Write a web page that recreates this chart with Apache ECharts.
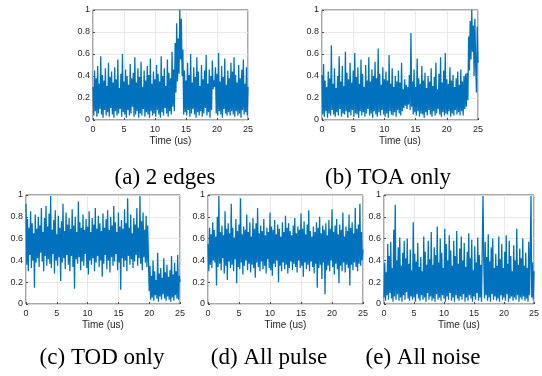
<!DOCTYPE html>
<html>
<head>
<meta charset="utf-8">
<script src="https://cdn.jsdelivr.net/npm/echarts@6/dist/echarts.min.js"></script>
<style>html,body{margin:0;padding:0;background:#fff}#c{width:542px;height:376px}</style>
</head>
<body>
<div id="c"></div>
<script>
const dt = 0.125; // sample step (us)
const xTicks = [0, 5, 10, 15, 20, 25];
const yTicks = [0, 0.2, 0.4, 0.6, 0.8, 1];
const captions = ['(a) 2 edges', '(b) TOA only', '(c) TOD only', '(d) All pulse', '(e) All noise'];

const twoEdges = [
0.30,0.04,0.45,0.08,0.38,0.03,0.49,0.06,0.33,0.10,0.58,0.05,0.41,0.02,0.36,0.09,0.47,0.04,0.31,0.07,
0.52,0.03,0.39,0.11,0.44,0.05,0.34,0.02,0.48,0.08,0.37,0.04,0.55,0.06,0.29,0.10,0.42,0.03,0.60,0.07,
0.35,0.05,0.46,0.02,0.40,0.09,0.32,0.04,0.51,0.06,0.38,0.12,0.43,0.03,0.57,0.05,0.34,0.08,0.47,0.02,
0.39,0.06,0.53,0.04,0.30,0.10,0.45,0.03,0.36,0.07,0.49,0.05,0.41,0.02,0.56,0.08,0.33,0.04,0.44,0.06,
0.37,0.03,0.50,0.09,0.42,0.05,0.35,0.02,0.58,0.07,0.40,0.04,0.47,0.11,0.31,0.06,0.55,0.03,0.43,0.08,
0.38,0.05,0.62,0.12,0.46,0.08,0.70,0.25,0.88,0.35,0.74,0.42,1.00,0.55,0.92,0.40,0.64,0.05,0.45,0.07,
0.36,0.04,0.52,0.09,0.41,0.03,0.60,0.06,0.34,0.10,0.48,0.05,0.39,0.02,0.57,0.07,0.44,0.04,0.31,0.08,
0.50,0.03,0.37,0.06,0.45,0.11,0.59,0.04,0.33,0.07,0.46,0.02,0.40,0.09,0.54,0.28,0.36,0.30,0.48,0.06,
0.42,0.04,0.61,0.08,0.35,0.05,0.49,0.02,0.39,0.10,0.56,0.06,0.32,0.04,0.45,0.07,0.38,0.04,0.52,0.08,
0.44,0.05,0.57,0.03,0.41,0.08,0.34,0.04,0.50,0.06,0.38,0.02,0.46,0.09,0.55,0.05,0.33,0.07,0.48,0.04,0.30];

const toaOnly = [
0.41,0.05,0.51,0.03,0.36,0.08,0.30,0.02,0.44,0.06,0.38,0.04,0.68,0.09,0.33,0.05,0.47,0.03,0.29,0.07,
0.40,0.04,0.58,0.10,0.35,0.03,0.49,0.06,0.31,0.05,0.62,0.08,0.43,0.02,0.37,0.07,0.52,0.04,0.34,0.09,
0.45,0.03,0.61,0.06,0.39,0.05,0.48,0.02,0.33,0.08,0.55,0.04,0.42,0.07,0.30,0.03,0.50,0.06,0.36,0.10,
0.57,0.04,0.35,0.06,0.46,0.02,0.40,0.08,0.53,0.05,0.38,0.03,0.65,0.07,0.42,0.04,0.32,0.09,0.48,0.05,
0.37,0.03,0.44,0.06,0.36,0.02,0.59,0.08,0.33,0.05,0.47,0.04,0.30,0.07,0.40,0.03,0.35,0.09,0.45,0.06,
0.34,0.04,0.52,0.08,0.28,0.11,0.37,0.13,0.32,0.10,0.30,0.14,0.41,0.09,0.79,0.12,0.35,0.05,0.46,0.07,
0.30,0.04,0.56,0.08,0.38,0.03,0.33,0.06,0.49,0.05,0.36,0.02,0.43,0.07,0.29,0.04,0.40,0.09,0.35,0.05,
0.47,0.03,0.31,0.08,0.39,0.04,0.52,0.06,0.28,0.10,0.42,0.05,0.57,0.03,0.34,0.07,0.45,0.04,0.61,0.06,
0.37,0.05,0.33,0.08,0.48,0.03,0.36,0.06,0.41,0.04,0.30,0.09,0.38,0.05,0.44,0.07,0.32,0.04,0.46,0.08,
0.35,0.04,0.40,0.10,0.42,0.12,0.43,0.18,0.76,0.45,0.90,0.55,1.00,0.62,0.86,0.40,0.92,0.50,0.25,0.85,0.52];

const todOnly = [
0.92,0.36,0.78,0.30,0.70,0.45,0.85,0.33,0.74,0.40,0.65,0.15,0.82,0.38,0.69,0.42,0.80,0.34,0.72,0.47,
0.88,0.39,0.66,0.30,0.79,0.44,0.90,0.35,0.71,0.41,0.83,0.37,0.99,0.33,0.68,0.46,0.77,0.28,0.86,0.40,
0.64,0.35,0.81,0.43,0.70,0.21,0.76,0.38,0.92,0.42,0.67,0.32,0.84,0.45,0.73,0.36,0.79,0.30,0.69,0.44,
0.87,0.34,0.72,0.14,0.80,0.41,0.66,0.37,0.94,0.43,0.75,0.31,0.70,0.39,0.82,0.35,0.68,0.46,0.78,0.33,
0.71,0.27,0.85,0.40,0.66,0.36,0.79,0.42,0.73,0.30,0.88,0.38,0.69,0.44,0.81,0.34,0.74,0.40,0.67,0.25,
0.83,0.37,0.70,0.45,0.78,0.32,0.86,0.40,0.68,0.29,0.80,0.43,0.72,0.35,0.90,0.39,0.75,0.46,0.66,0.31,
0.84,0.38,0.71,0.13,0.77,0.42,0.69,0.34,0.87,0.40,0.74,0.30,0.97,0.44,0.70,0.36,0.82,0.41,0.65,0.33,
0.79,0.39,0.73,0.45,0.88,0.35,0.70,0.42,0.99,0.37,0.76,0.31,0.84,0.43,0.68,0.38,0.81,0.34,0.72,0.41,
0.12,0.35,0.04,0.26,0.06,0.40,0.03,0.30,0.08,0.22,0.05,0.47,0.02,0.28,0.07,0.33,0.04,0.24,0.09,0.42,
0.05,0.29,0.03,0.36,0.07,0.25,0.04,0.31,0.02,0.44,0.06,0.27,0.03,0.38,0.08,0.30,0.05,0.45,0.04,0.26,0.20];

const allPulse = [
0.55,0.30,0.70,0.36,0.64,0.33,0.75,0.40,0.68,0.38,0.62,0.17,0.80,0.34,0.99,0.37,0.66,0.31,0.72,0.42,
0.63,0.28,0.85,0.35,0.69,0.22,0.74,0.39,0.65,0.33,0.92,0.36,0.70,0.30,0.61,0.41,0.78,0.19,0.67,0.34,
0.73,0.32,0.97,0.38,0.64,0.27,0.71,0.35,0.68,0.40,0.82,0.31,0.66,0.37,0.75,0.29,0.62,0.36,0.79,0.33,
0.69,0.24,0.74,0.38,0.88,0.34,0.65,0.30,0.72,0.39,0.67,0.32,0.78,0.35,0.63,0.28,0.70,0.41,0.66,0.33,
0.84,0.31,0.71,0.26,0.68,0.37,0.77,0.34,0.64,0.40,0.73,0.20,0.69,0.35,0.62,0.30,0.75,0.38,0.66,0.32,
0.81,0.36,0.70,0.28,0.74,0.33,0.67,0.39,0.63,0.31,0.72,0.37,0.79,0.34,0.65,0.29,0.71,0.40,0.68,0.33,
0.83,0.35,0.69,0.25,0.76,0.38,0.64,0.32,0.73,0.36,0.86,0.30,0.67,0.39,0.62,0.34,0.71,0.28,0.66,0.37,
0.75,0.15,0.70,0.33,0.80,0.36,0.65,0.23,0.72,0.38,0.68,0.09,0.74,0.31,0.63,0.35,0.77,0.30,0.69,0.40,
0.87,0.34,0.66,0.27,0.72,0.37,0.78,0.32,0.64,0.19,0.73,0.35,0.68,0.30,0.84,0.38,0.62,0.29,0.71,0.36,
0.67,0.33,0.82,0.17,0.70,0.36,0.75,0.31,0.65,0.38,0.88,0.34,0.69,0.30,0.73,0.37,0.92,0.35,0.66,0.40,0.50];

const allNoise = [
0.06,0.38,0.03,0.29,0.08,0.55,0.04,0.44,0.10,0.57,0.05,0.33,0.02,0.68,0.07,0.91,0.04,0.40,0.09,0.52,
0.03,0.61,0.06,0.35,0.02,0.47,0.08,0.58,0.04,0.42,0.11,0.60,0.05,0.37,0.03,0.50,0.07,0.31,0.04,0.75,
0.06,0.46,0.02,0.39,0.09,0.56,0.05,0.34,0.03,0.43,0.08,0.30,0.04,0.62,0.06,0.48,0.02,0.36,0.10,0.58,
0.04,0.41,0.07,0.66,0.03,0.36,0.05,0.52,0.02,0.45,0.09,0.71,0.04,0.38,0.06,0.60,0.03,0.47,0.08,0.33,
0.05,0.69,0.02,0.55,0.07,0.40,0.04,0.63,0.10,0.49,0.03,0.35,0.06,0.58,0.02,0.44,0.08,0.67,0.05,0.37,
0.03,0.51,0.07,0.62,0.04,0.40,0.09,0.56,0.02,0.34,0.06,0.48,0.03,0.65,0.08,0.42,0.05,0.59,0.02,0.31,
0.07,0.53,0.04,0.38,0.10,0.61,0.03,0.45,0.06,0.36,0.02,0.50,0.99,0.40,0.05,0.57,0.08,0.43,0.03,0.64,
0.06,0.39,0.02,0.52,0.09,0.60,0.04,0.33,0.07,0.46,0.03,0.35,0.05,0.62,0.02,0.41,0.08,0.55,0.04,0.33,
0.06,0.48,0.03,0.63,0.09,0.37,0.02,0.58,0.05,0.44,0.07,0.30,0.03,0.54,0.06,0.40,0.04,0.69,0.08,0.36,
0.02,0.51,0.06,0.42,0.04,0.60,0.07,0.35,0.03,0.47,0.05,0.33,0.02,0.57,0.08,0.45,0.99,0.06,0.38,0.04,0.30];

const panels = [twoEdges, toaOnly, todOnly, allPulse, allNoise];
const grids = [
  {left: 93, top: 10, width: 155, height: 110},
  {left: 322, top: 10, width: 156, height: 110},
  {left: 26, top: 195, width: 154, height: 109},
  {left: 208, top: 195, width: 155, height: 109},
  {left: 384, top: 195, width: 155, height: 109}
];
const capPos = [[165, 178], [388, 178], [102, 358], [269, 358], [423, 358]];

const axisCol = '#262626';
const font = 'Liberation Sans, Arial, Helvetica, sans-serif';

const option = {
  animation: false,
  backgroundColor: '#fff',
  grid: grids.map(g => Object.assign({show: true, borderColor: axisCol, borderWidth: 0.8, backgroundColor: '#fff'}, g)),
  xAxis: grids.map((g, i) => ({
    gridIndex: i, type: 'value', min: xTicks[0], max: xTicks[xTicks.length - 1], interval: xTicks[1] - xTicks[0],
    name: 'Time (us)', nameLocation: 'middle', nameGap: 16,
    nameTextStyle: {fontFamily: font, fontSize: 10, color: axisCol},
    axisLine: {show: false},
    axisTick: {show: true, inside: true, length: 2, lineStyle: {color: axisCol, width: 0.8}},
    axisLabel: {fontFamily: font, fontSize: 9, color: axisCol, margin: 5},
    splitLine: {show: true, lineStyle: {color: '#e3e3e3', width: 0.8}}
  })),
  yAxis: grids.map((g, i) => ({
    gridIndex: i, type: 'value', min: yTicks[0], max: yTicks[yTicks.length - 1], interval: yTicks[1] - yTicks[0],
    axisLine: {show: false},
    axisTick: {show: true, inside: true, length: 2, lineStyle: {color: axisCol, width: 0.8}},
    axisLabel: {fontFamily: font, fontSize: 9, color: axisCol, margin: 3},
    splitLine: {show: true, lineStyle: {color: '#e3e3e3', width: 0.8}}
  })),
  series: panels.map((vals, i) => ({
    type: 'line', xAxisIndex: i, yAxisIndex: i, showSymbol: false, symbol: 'none',
    lineStyle: {color: '#0072BD', width: 1.3}, clip: true,
    data: vals.map((v, k) => [k * dt, v])
  })),
  graphic: captions.map((t, i) => ({
    type: 'text', x: capPos[i][0], y: capPos[i][1],
    style: {text: t, fontFamily: 'Liberation Serif, Times New Roman, serif', fontSize: 23, fill: '#000',
      textAlign: 'center', textVerticalAlign: 'middle'}
  }))
};
echarts.init(document.getElementById('c')).setOption(option);
</script>
</body>
</html>
